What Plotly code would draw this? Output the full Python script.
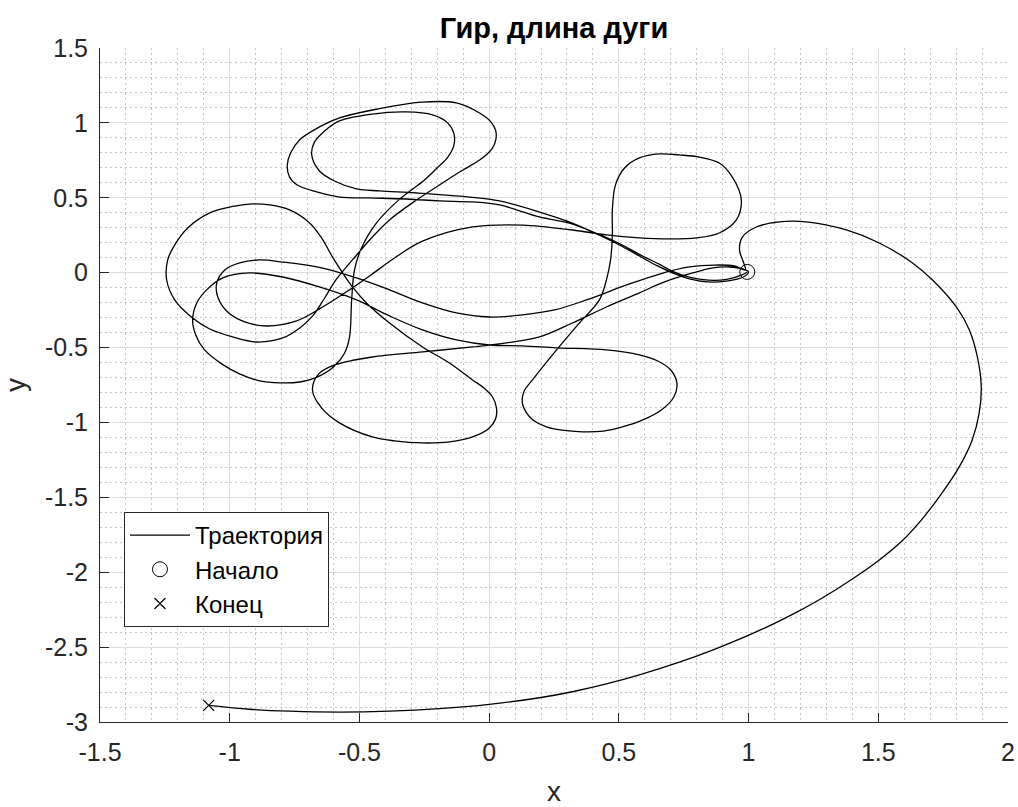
import plotly.graph_objects as go

# ---- data (data coordinates) ----
start_x = [0.995]
start_y = [0.005]
end_x = [-1.081]
end_y = [-2.889]

# first pass: start -> outer upper-left loop -> left big loop -> lower middle loop -> back to start
seg1 = [(0.995, 0.005), (0.975, -0.015), (0.915, -0.045), (0.845, -0.050), (0.775, -0.032),
        (0.707, 0.008), (0.657, 0.055), (0.579, 0.122), (0.502, 0.195), (0.406, 0.268),
        (0.309, 0.330), (0.194, 0.372), (0.040, 0.452), (-0.064, 0.472), (-0.192, 0.479),
        (-0.319, 0.492), (-0.461, 0.499), (-0.577, 0.505), (-0.665, 0.539), (-0.740, 0.585),
        (-0.770, 0.640), (-0.778, 0.720), (-0.765, 0.800), (-0.731, 0.886), (-0.654, 0.973),
        (-0.577, 1.033), (-0.450, 1.086), (-0.257, 1.139), (-0.126, 1.133), (-0.037, 1.066),
        (0.005, 1.010), (0.025, 0.950), (0.026, 0.890), (0.012, 0.830), (-0.030, 0.760),
        (-0.114, 0.672), (-0.192, 0.585), (-0.280, 0.485),
        (-0.384, 0.352), (-0.450, 0.238), (-0.527, 0.085), (-0.588, -0.042), (-0.634, -0.169),
        (-0.680, -0.289), (-0.730, -0.369), (-0.796, -0.436), (-0.896, -0.463), (-0.989, -0.429),
        (-1.077, -0.376), (-1.143, -0.303), (-1.212, -0.182), (-1.243, -0.049), (-1.239, 0.085),
        (-1.212, 0.185), (-1.162, 0.298), (-1.077, 0.399), (-0.981, 0.445), (-0.912, 0.459),
        (-0.846, 0.452), (-0.769, 0.419), (-0.692, 0.332), (-0.646, 0.232), (-0.604, 0.105),
        (-0.565, -0.002), (-0.527, -0.095), (-0.473, -0.202), (-0.384, -0.336), (-0.257, -0.496),
        (-0.153, -0.603), (-0.064, -0.716), (-0.020, -0.770), (0.013, -0.830), (0.028, -0.900),
        (0.025, -0.975), (0.001, -1.037),
        (-0.064, -1.097), (-0.153, -1.130), (-0.257, -1.137), (-0.365, -1.123), (-0.450, -1.097),
        (-0.577, -1.003), (-0.646, -0.903), (-0.681, -0.783), (-0.657, -0.676), (-0.596, -0.616),
        (-0.519, -0.583), (-0.450, -0.563), (-0.257, -0.529), (-0.064, -0.496), (0.067, -0.469),
        (0.194, -0.429), (0.321, -0.336), (0.452, -0.229), (0.579, -0.135), (0.676, -0.062),
        (0.784, -0.002), (0.857, 0.031), (0.927, 0.038), (0.978, 0.025), (1.000, 0.005)]

# second pass: inner upper-left loop -> left-lower loop -> right loops -> arch -> inner left loop
seg2 = [(0.980, -0.029), (0.915, -0.056), (0.842, -0.062), (0.772, -0.042), (0.707, -0.002),
        (0.649, 0.045), (0.579, 0.111), (0.502, 0.185), (0.406, 0.265), (0.309, 0.339),
        (0.194, 0.405), (0.040, 0.479), (-0.076, 0.505), (-0.280, 0.532), (-0.423, 0.546),
        (-0.511, 0.559), (-0.596, 0.612), (-0.654, 0.679), (-0.684, 0.786), (-0.673, 0.873),
        (-0.634, 0.946), (-0.577, 1.013), (-0.450, 1.059), (-0.319, 1.073), (-0.218, 1.053),
        (-0.160, 1.000), (-0.136, 0.930), (-0.136, 0.850), (-0.160, 0.770), (-0.200, 0.700),
        (-0.249, 0.619),
        (-0.345, 0.491), (-0.434, 0.332), (-0.492, 0.165), (-0.519, 0.018), (-0.530, -0.182),
        (-0.538, -0.429), (-0.557, -0.536), (-0.596, -0.623), (-0.661, -0.696), (-0.730, -0.730),
        (-0.807, -0.736), (-0.884, -0.723), (-0.962, -0.676), (-1.031, -0.609), (-1.097, -0.516),
        (-1.131, -0.416), (-1.143, -0.316), (-1.127, -0.202), (-1.089, -0.115), (-1.027, -0.035),
        (-0.923, -0.002), (-0.796, -0.029), (-0.642, -0.102), (-0.511, -0.182), (-0.384, -0.289),
        (-0.257, -0.382), (-0.126, -0.449), (0.001, -0.483), (0.129, -0.489), (0.260, -0.502),
        (0.452, -0.516), (0.579, -0.549), (0.650, -0.590), (0.700, -0.650), (0.724, -0.740),
        (0.712, -0.830), (0.665, -0.915), (0.590, -0.985), (0.514, -1.030), (0.440, -1.058),
        (0.360, -1.063), (0.280, -1.052), (0.221, -1.030), (0.170, -0.985), (0.144, -0.936),
        (0.128, -0.870), (0.135, -0.790), (0.167, -0.716), (0.260, -0.516), (0.348, -0.336),
        (0.425, -0.182),
        (0.452, -0.049), (0.468, 0.085), (0.475, 0.252), (0.475, 0.419), (0.487, 0.586),
        (0.522, 0.699), (0.579, 0.766), (0.656, 0.793), (0.733, 0.786), (0.810, 0.772),
        (0.887, 0.732), (0.937, 0.639), (0.972, 0.485), (0.953, 0.352), (0.887, 0.265),
        (0.800, 0.232), (0.695, 0.225), (0.579, 0.232), (0.452, 0.252), (0.321, 0.285),
        (0.129, 0.318), (-0.064, 0.305), (-0.257, 0.210), (-0.365, 0.098), (-0.461, -0.022),
        (-0.557, -0.136), (-0.654, -0.242), (-0.742, -0.322), (-0.857, -0.356), (-0.942, -0.329),
        (-1.008, -0.263), (-1.046, -0.163), (-1.050, -0.069), (-1.019, 0.018), (-0.962, 0.065),
        (-0.885, 0.085), (-0.796, 0.071), (-0.642, 0.031), (-0.511, -0.035), (-0.384, -0.115),
        (-0.257, -0.202), (-0.126, -0.269), (0.001, -0.296), (0.129, -0.282), (0.252, -0.249),
        (0.375, -0.182), (0.530, -0.082), (0.657, -0.009), (0.772, 0.038), (0.868, 0.051),
        (0.945, 0.045), (0.988, 0.018)]

# final spiral out to the end point
seg3 = [(0.980, 0.071), (0.965, 0.152), (0.976, 0.238), (1.030, 0.305), (1.119, 0.339),
        (1.223, 0.339), (1.377, 0.285), (1.504, 0.198), (1.632, 0.065), (1.709, -0.049),
        (1.801, -0.229), (1.851, -0.382), (1.882, -0.562), (1.897, -0.763), (1.889, -0.936),
        (1.862, -1.117), (1.812, -1.297), (1.746, -1.470), (1.669, -1.645), (1.592, -1.790),
        (1.504, -1.918), (1.400, -2.045), (1.284, -2.172), (1.184, -2.268), (1.092, -2.348),
        (0.992, -2.427), (0.861, -2.520), (0.733, -2.601), (0.579, -2.686), (0.452, -2.746),
        (0.321, -2.798), (0.194, -2.838), (0.001, -2.882), (-0.192, -2.911), (-0.384, -2.928),
        (-0.577, -2.934), (-0.769, -2.928), (-0.923, -2.915), (-1.081, -2.889)]

x_tick_vals = [-1.5, -1, -0.5, 0, 0.5, 1, 1.5, 2]
x_tick_text = ["-1.5", "-1", "-0.5", "0", "0.5", "1", "1.5", "2"]
y_tick_vals = [-3, -2.5, -2, -1.5, -1, -0.5, 0, 0.5, 1, 1.5]
y_tick_text = ["-3", "-2.5", "-2", "-1.5", "-1", "-0.5", "0", "0.5", "1", "1.5"]

traj = seg1 + seg2 + seg3
traj_x = [p[0] for p in traj]
traj_y = [p[1] for p in traj]

FONT = "Liberation Sans, Arial, Helvetica, sans-serif"
AX = "#262626"

fig = go.Figure()
fig.add_trace(go.Scatter(x=traj_x, y=traj_y, mode="lines", name="Траектория",
                         line=dict(color="black", width=1.3, shape="spline", smoothing=1.0)))
fig.add_trace(go.Scatter(x=start_x, y=start_y, mode="markers", name="Начало",
                         marker=dict(symbol="circle-open", size=15, color="black",
                                     line=dict(width=1, color="black"))))
fig.add_trace(go.Scatter(x=end_x, y=end_y, mode="markers", name="Конец",
                         marker=dict(symbol="x-thin-open", size=11, color="black",
                                     line=dict(width=1.2, color="black"))))

def axis(vals, text, rng, title, standoff_lbl, standoff_title):
    return dict(range=rng, tickmode="array", tickvals=vals, ticktext=text,
                showline=True, linecolor=AX, linewidth=1, mirror=False,
                ticks="inside", ticklen=9, tickwidth=1, tickcolor=AX,
                ticklabelstandoff=standoff_lbl,
                showgrid=True, gridcolor="#dedede", gridwidth=1, zeroline=False,
                tickfont=dict(family=FONT, size=25, color=AX),
                title=dict(text=title, font=dict(family=FONT, size=28, color=AX),
                           standoff=standoff_title),
                minor=dict(tickmode="linear", tick0=0, dtick=0.1, showgrid=True,
                           gridcolor="#c6c6c6", griddash="2px,3px", gridwidth=1, ticks=""),
                automargin=False, layer="below traces")

fig.update_layout(
    width=1018, height=807, autosize=False,
    margin=dict(l=100, r=10, t=48, b=85),
    paper_bgcolor="white", plot_bgcolor="white",
    title=dict(text="<b>Гир, длина дуги</b>", x=0.5, xref="paper", xanchor="center",
               y=1, yref="paper", yanchor="bottom", pad=dict(b=10),
               font=dict(family=FONT, size=29, color="black")),
    xaxis=axis(x_tick_vals, x_tick_text, [-1.5, 2], "x", 8, 18),
    yaxis=axis(y_tick_vals, y_tick_text, [-3, 1.5], "y", 6, 18),
    legend=dict(x=0.0264, y=0.3116, xanchor="left", yanchor="top",
                bgcolor="white", bordercolor=AX, borderwidth=1,
                font=dict(family=FONT, size=24, color="black"),
                itemwidth=60, tracegroupgap=0),
    showlegend=True,
)

fig.write_html("out.html")
